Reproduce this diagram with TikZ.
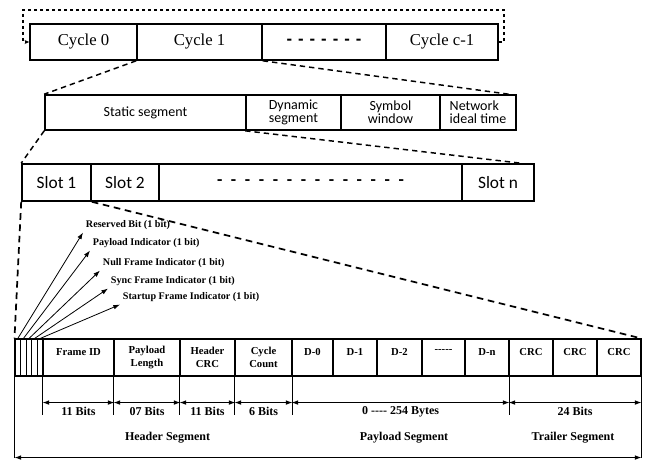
\documentclass[tikz,border=0pt]{standalone}
\usepackage{fontspec}
\setmainfont{Liberation Serif}
\newfontfamily\calibri{Carlito}
\newfontfamily\arialfont{Liberation Sans}
\usetikzlibrary{arrows.meta}
\newcommand\dashes[2]{\foreach \k in {1,...,#1}{\ifnum\k>1\hspace{#2}\fi-}}

\tikzset{
  zoomline/.style={line width=1.1pt, dash pattern=on 4pt off 3pt},
  widezoom/.style={line width=1.3pt, dash pattern=on 5pt off 3.5pt},
  tick/.style={line width=0.7pt},
  dimarrow/.style={line width=0.7pt, {Latex[length=5pt,width=3.5pt]}-{Latex[length=5pt,width=3.5pt]}},
  bitarrow/.style={line width=0.6pt, -{Latex[length=5pt,width=3.5pt]}},
  dimlabel/.style={below=2pt, inner sep=1pt, font=\bfseries\fontsize{9}{10}\selectfont},
  seglabel/.style={inner sep=1pt, font=\bfseries\fontsize{9}{10}\selectfont},
  bitlabel/.style={anchor=west, inner sep=2pt, font=\bfseries\fontsize{7.6}{8}\selectfont},
}

\begin{document}
\begin{tikzpicture}[x=0.75pt,y=-0.75pt]
    \useasboundingbox (0,0) rectangle (648,461);

    % communication cycles
    \begin{scope}[every node/.style={draw, line width=1.2pt, inner sep=0pt,
                    minimum height=36*0.75pt, font=\fontsize{12.5}{14}\selectfont}]
        \node[minimum width=107*0.75pt] (c0) at (83.5,42) {Cycle 0};
        \node[minimum width=125*0.75pt] (c1) at (199.5,42) {Cycle 1};
        \node[minimum width=124*0.75pt] (cd) at (324,42) {\arialfont\bfseries\dashes{7}{4.5pt}};
        \node[minimum width=112*0.75pt] (cn) at (442,42) {Cycle c-1};
    \end{scope}
    \coordinate (loopr) at (504,10);
    \coordinate (loopl) at (23,10);
    \draw[line width=0.8pt, dash pattern=on 2.5pt off 2pt, -{Stealth[length=3.5pt,width=3pt]}]
        (cn.east) -| (loopr) -- (loopl) |- (c0.west);

    % segments of one cycle
    \begin{scope}[every node/.style={draw, line width=1.2pt, inner sep=0pt,
                    minimum height=35*0.75pt, align=center,
                    font=\calibri\fontsize{10.5}{10}\selectfont}]
        \node[minimum width=201*0.75pt] (stat) at (145.5,112.5) {Static segment};
        \node[minimum width=95*0.75pt, align=left] (dyn) at (293.5,112.5) {Dynamic\\segment};
        \node[minimum width=99*0.75pt] (sym) at (390.5,112.5) {Symbol\\window};
        \node[minimum width=76*0.75pt, align=left] (nit) at (478,112.5) {Network\\ideal time};
    \end{scope}
    \draw[zoomline] (c1.south west) -- (stat.north west);
    \draw[zoomline] (c1.south east) -- ([xshift=-6pt]nit.north east);

    % slots of the static segment
    \begin{scope}[every node/.style={draw, line width=1.2pt, inner sep=0pt,
                    minimum height=37*0.75pt, font=\calibri\fontsize{13}{14}\selectfont}]
        \node[minimum width=69*0.75pt] (s1) at (56.5,182.5) {Slot 1};
        \node[minimum width=68*0.75pt] (s2) at (125,182.5) {Slot 2\hspace{6pt}};
        \node[minimum width=303*0.75pt] (sd) at (310.5,182.5) {\bfseries\dashes{14}{6.5pt}};
        \node[minimum width=72*0.75pt] (sn) at (498,182.5) {Slot n\hspace{8pt}};
    \end{scope}
    \draw[zoomline] (stat.south west) -- (s1.north west);
    \draw[zoomline] (dyn.south west) -- ([xshift=-10.5pt]sn.north east);

    % frame format
    \begin{scope}[every node/.style={draw, line width=0.8pt, inner sep=0pt,
                    minimum height=37*0.75pt, align=center,
                    font=\bfseries\fontsize{8}{9.5}\selectfont},
                  top/.style={text depth=9pt}]
        \node[minimum width=5.6*0.75pt] (b1) at (17.8,357.5) {};
        \node[minimum width=5.6*0.75pt] (b2) at (23.4,357.5) {};
        \node[minimum width=5.6*0.75pt] (b3) at (29,357.5) {};
        \node[minimum width=5.6*0.75pt] (b4) at (34.6,357.5) {};
        \node[minimum width=5.6*0.75pt] (b5) at (40.2,357.5) {};
        \node[top, minimum width=71*0.75pt] (fid) at (78.5,357.5) {Frame ID};
        \node[minimum width=66*0.75pt] (plen) at (147,357.5) {Payload\\Length};
        \node[minimum width=55*0.75pt] (hcrc) at (207.5,357.5) {Header\\CRC};
        \node[minimum width=57*0.75pt] (cyc) at (263.5,357.5) {Cycle\\Count};
        \node[top, minimum width=41*0.75pt] (d0) at (312.5,357.5) {D-0};
        \node[top, minimum width=44*0.75pt] (d1) at (355,357.5) {D-1};
        \node[top, minimum width=45*0.75pt] (d2) at (399.5,357.5) {D-2};
        \node[top, minimum width=43*0.75pt] (dd) at (443.5,357.5) {-{}-{}-{}-{}-};
        \node[top, minimum width=44*0.75pt] (dn) at (487,357.5) {D-n};
        \node[top, minimum width=44*0.75pt] (crc1) at (531,357.5) {CRC};
        \node[top, minimum width=44*0.75pt] (crc2) at (575,357.5) {CRC};
        \node[top, minimum width=44*0.75pt] (crc3) at (619,357.5) {CRC};
    \end{scope}
    \draw[widezoom] (s1.south west) -- (b1.north west);
    \draw[widezoom] (s1.south east) -- (crc3.north east);

    % header bits
    \node[bitlabel] (rbit) at (83,225) {Reserved Bit (1 bit)};
    \node[bitlabel] (pind) at (90,243) {Payload Indicator (1 bit)};
    \node[bitlabel] (nfi) at (100,263) {Null Frame Indicator (1 bit)};
    \node[bitlabel] (sfi) at (108,281) {Sync Frame Indicator (1 bit)};
    \node[bitlabel] (sufi) at (120,297) {Startup Frame Indicator (1 bit)};
    \draw[bitarrow] (b1.north) -- (rbit.south west);
    \draw[bitarrow] (b2.north) -- (pind.south west);
    \draw[bitarrow] (b3.north) -- (nfi.south west);
    \draw[bitarrow] (b4.north) -- (sfi.south west);
    \draw[bitarrow] (b5.north) -- (sufi.south west);

    % field lengths
    \draw[tick] (fid.south west) -- ++(0,38);
    \draw[tick] (plen.south west) -- ++(0,38);
    \draw[tick] (hcrc.south west) -- ++(0,38);
    \draw[tick] (cyc.south west) -- ++(0,38);
    \draw[tick] (cyc.south east) -- ++(0,38);
    \draw[tick] (dn.south east) -- ++(0,38);
    \draw[tick] (b1.south west) -- ++(0,81);
    \draw[tick] (crc3.south east) -- ++(0,81);

    \draw[dimarrow] ([yshift=-19.5pt]fid.south west) -- node[dimlabel] (l1) {11 Bits} ([yshift=-19.5pt]fid.south east);
    \draw[dimarrow] ([yshift=-19.5pt]plen.south west) -- node[dimlabel] (l2) {07 Bits} ([yshift=-19.5pt]plen.south east);
    \draw[dimarrow] ([yshift=-19.5pt]hcrc.south west) -- node[dimlabel] (l3) {11 Bits} ([yshift=-19.5pt]hcrc.south east);
    \draw[dimarrow] ([yshift=-19.5pt]cyc.south west) -- node[dimlabel] (l4) {6 Bits} ([yshift=-19.5pt]cyc.south east);
    \draw[dimarrow] ([yshift=-19.5pt]d0.south west) -- node[dimlabel] (l5) {0 -{}-{}-{}- 254 Bytes} ([yshift=-19.5pt]dn.south east);
    \draw[dimarrow] ([yshift=-19.5pt]crc1.south west) -- node[dimlabel] (l6) {24 Bits} ([yshift=-19.5pt]crc3.south east);
    \draw[dimarrow] ([yshift=-60.75pt]b1.south west) -- ([yshift=-60.75pt]crc3.south east);

    \node[seglabel] (hseg) at (167.5,438) {Header Segment};
    \node[seglabel] (pseg) at (404,438) {Payload Segment};
    \node[seglabel] (tseg) at (573,438) {Trailer Segment};
\end{tikzpicture}
\end{document}
